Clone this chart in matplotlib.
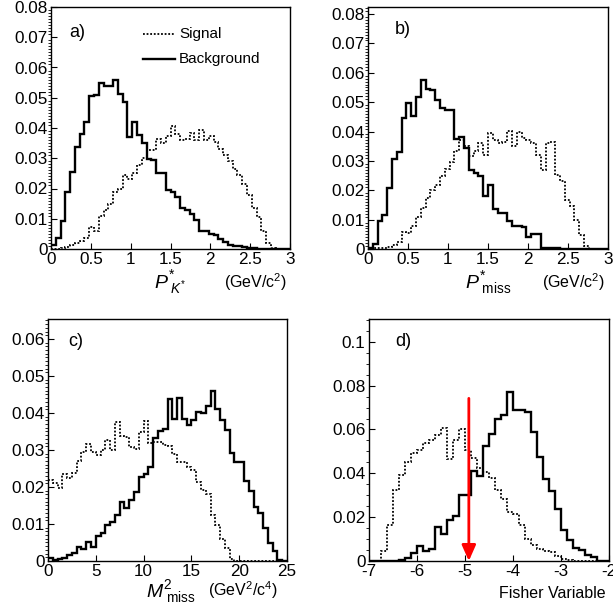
import numpy as np
import matplotlib
matplotlib.use("Agg")
import matplotlib.pyplot as plt
from matplotlib.ticker import MultipleLocator, FuncFormatter

plt.rcParams['font.family'] = ['Liberation Sans', 'DejaVu Sans']
plt.rcParams['mathtext.fontset'] = 'custom'
plt.rcParams['mathtext.rm'] = 'Liberation Sans'
plt.rcParams['mathtext.it'] = 'Liberation Sans:italic'
plt.rcParams['axes.unicode_minus'] = False

# --- data (bin contents) ---
a_range = (0, 3)
a_sig = [0, 0.0001, 0.0004, 0.0008, 0.0013, 0.0020, 0.0028, 0.0038, 0.0073, 0.006,
         0.011, 0.0128, 0.015, 0.019, 0.020, 0.0244, 0.0233, 0.025, 0.0277, 0.030,
         0.0327, 0.0327, 0.0365, 0.035, 0.0375, 0.0405, 0.038, 0.036, 0.0365, 0.0385,
         0.036, 0.0395, 0.036, 0.0375, 0.0355, 0.033, 0.031, 0.029, 0.0265, 0.0245,
         0.0215, 0.018, 0.0135, 0.0105, 0.006, 0.002, 0.0003, 0, 0, 0]
a_bkg = [0.0012, 0.0035, 0.0092, 0.019, 0.0255, 0.0338, 0.038, 0.042, 0.0506, 0.0509,
         0.055, 0.0539, 0.054, 0.0558, 0.0514, 0.0487, 0.037, 0.042, 0.0376, 0.0349,
         0.0296, 0.0294, 0.025, 0.025, 0.0194, 0.0189, 0.0172, 0.0135, 0.0128, 0.0117,
         0.0095, 0.006, 0.006, 0.0049, 0.0045, 0.0034, 0.0023, 0.0014, 0.0011, 0.0011,
         0.0007, 0.0004, 0.0002, 0, 0, 0, 0, 0, 0, 0]

b_range = (0, 3)
b_sig = [0, 0.0002, 0.0003, 0.0004, 0.0008, 0.0013, 0.0023, 0.0058, 0.0055, 0.0077,
         0.011, 0.014, 0.0173, 0.020, 0.0219, 0.0247, 0.0272, 0.0295, 0.0332, 0.037,
         0.035, 0.0315, 0.0332, 0.036, 0.032, 0.0394, 0.037, 0.036, 0.0366, 0.0403,
         0.035, 0.0397, 0.0377, 0.037, 0.036, 0.032, 0.027, 0.036, 0.0363, 0.0253,
         0.023, 0.0168, 0.0145, 0.010, 0.0049, 0.001, 0, 0, 0, 0]
b_bkg = [0.0002, 0.0018, 0.0094, 0.0117, 0.0207, 0.0306, 0.033, 0.0445, 0.0498, 0.0454,
         0.0519, 0.0576, 0.0544, 0.054, 0.0508, 0.048, 0.0474, 0.0474, 0.0374, 0.038,
         0.0343, 0.027, 0.0258, 0.0247, 0.0179, 0.0219, 0.0136, 0.0122, 0.0122, 0.0094,
         0.0079, 0.0079, 0.0074, 0.004, 0.005, 0.005, 0.0003, 0.0002, 0.0005, 0.0003,
         0.0001, 0, 0, 0, 0, 0, 0, 0, 0, 0]

c_range = (0, 25)
c_sig = [0.0218, 0.0211, 0.0196, 0.0235, 0.0223, 0.0238, 0.027, 0.0295, 0.0316, 0.0295,
         0.0286, 0.030, 0.0327, 0.030, 0.0376, 0.0338, 0.0334, 0.0309, 0.0304, 0.0349,
         0.0379, 0.032, 0.0322, 0.0322, 0.0313, 0.031, 0.029, 0.0268, 0.0268, 0.0255,
         0.0245, 0.0214, 0.0191, 0.0182, 0.0124, 0.0097, 0.006, 0.0035, 0.0006, 0,
         0, 0, 0, 0, 0, 0, 0, 0, 0, 0]
c_bkg = [0.0008, 0.0004, 0.0006, 0.0009, 0.0015, 0.0022, 0.0038, 0.0032, 0.0051, 0.0038,
         0.0067, 0.0076, 0.0097, 0.0106, 0.0125, 0.016, 0.0142, 0.0164, 0.0187, 0.0226,
         0.0235, 0.0255, 0.0333, 0.035, 0.0356, 0.0437, 0.0385, 0.044, 0.0385, 0.0367,
         0.038, 0.0403, 0.040, 0.042, 0.046, 0.041, 0.038, 0.0354, 0.0293, 0.0267,
         0.0267, 0.0215, 0.019, 0.0146, 0.0131, 0.0088, 0.0048, 0.0028, 0.0003, 0]

d_range = (-7, -2)
d_sig = [0, 0, 0.0046, 0.0163, 0.0323, 0.0391, 0.0452, 0.0493, 0.0508, 0.054,
         0.0554, 0.0574, 0.0607, 0.0467, 0.0551, 0.060, 0.0505, 0.0472, 0.0426, 0.0406,
         0.038, 0.0323, 0.0285, 0.0224, 0.0216, 0.0163, 0.0102, 0.0072, 0.0056, 0.0045,
         0.004, 0.0025, 0.001, 0.0003, 0, 0, 0, 0, 0, 0]
d_bkg = [0, 0, 0, 0, 0.0002, 0.0006, 0.0015, 0.0037, 0.0069, 0.0046,
         0.0056, 0.0155, 0.0122, 0.0189, 0.0204, 0.030, 0.030, 0.041, 0.0388, 0.0524,
         0.0581, 0.065, 0.0665, 0.0772, 0.0688, 0.0691, 0.068, 0.0589, 0.0475, 0.0375,
         0.032, 0.0235, 0.0143, 0.0097, 0.006, 0.0049, 0.0026, 0.002, 0, 0]
d_cut = -4.92

fig = plt.figure(figsize=(6.13, 6.08), dpi=100)
W, H = 613.0, 608.0


def make_axes(l, t, r, b):
    return fig.add_axes([l / W, 1 - b / H, (r - l) / W, (b - t) / H])


def style(ax, xr, ymax, xmaj, ymaj, ymin):
    ax.set_xlim(*xr)
    ax.set_ylim(0, ymax)
    ax.xaxis.set_major_locator(MultipleLocator(xmaj))
    ax.yaxis.set_major_locator(MultipleLocator(ymaj))
    ax.yaxis.set_minor_locator(MultipleLocator(ymin))
    fmt = FuncFormatter(lambda v, p: '%g' % round(v, 5))
    ax.xaxis.set_major_formatter(fmt)
    ax.yaxis.set_major_formatter(fmt)
    ax.tick_params(direction='in', labelsize=12.3, top=False, right=False)
    ax.tick_params(which='major', length=4.5, width=0.8)
    ax.tick_params(which='minor', length=2.2, width=0.6)
    ax.tick_params(axis='x', pad=2.5)
    ax.tick_params(axis='y', pad=2.5)
    for s in ax.spines.values():
        s.set_linewidth(1.0)


def draw(ax, xr, sig, bkg):
    edges = np.linspace(xr[0], xr[1], len(sig) + 1)
    ax.stairs(sig, edges, baseline=None, color='black', lw=1.3,
              linestyle=(0, (1, 1)))
    ax.stairs(bkg, edges, baseline=None, color='black', lw=1.7)


ax_a = make_axes(51, 7, 290, 249)
draw(ax_a, a_range, a_sig, a_bkg)
style(ax_a, a_range, 0.08, 0.5, 0.01, 0.001)
ax_a.text(0.11, 0.893, 'a)', transform=ax_a.transAxes, fontsize=13,
          ha='center', va='center')
ax_a.plot([0.385, 0.519], [0.888, 0.888], transform=ax_a.transAxes,
          color='black', lw=1.3, linestyle=(0, (1, 1)))
ax_a.plot([0.385, 0.519], [0.785, 0.785], transform=ax_a.transAxes,
          color='black', lw=1.7)
ax_a.text(0.535, 0.888, 'Signal', transform=ax_a.transAxes, fontsize=11,
          va='center')
ax_a.text(0.535, 0.785, 'Background', transform=ax_a.transAxes, fontsize=11,
          va='center')
ax_a.text(0.50, -0.14, r'$P^{*}_{\ K^{*}}$', transform=ax_a.transAxes,
          fontsize=14, ha='center', va='center')
ax_a.text(0.857, -0.135, r'(GeV/c$^2$)', transform=ax_a.transAxes,
          fontsize=11.5, ha='center', va='center')

ax_b = make_axes(368, 7, 608, 249)
draw(ax_b, b_range, b_sig, b_bkg)
style(ax_b, b_range, 0.0824, 0.5, 0.01, 0.001)
ax_b.text(0.145, 0.905, 'b)', transform=ax_b.transAxes, fontsize=13,
          ha='center', va='center')
ax_b.text(0.50, -0.14, r'$P^{*}_{\ \mathrm{miss}}$', transform=ax_b.transAxes,
          fontsize=14, ha='center', va='center')
ax_b.text(0.857, -0.135, r'(GeV/c$^2$)', transform=ax_b.transAxes,
          fontsize=11.5, ha='center', va='center')

ax_c = make_axes(48, 319, 287, 561)
draw(ax_c, c_range, c_sig, c_bkg)
style(ax_c, c_range, 0.0654, 5, 0.01, 0.001)
ax_c.text(0.117, 0.905, 'c)', transform=ax_c.transAxes, fontsize=13,
          ha='center', va='center')
ax_c.text(0.515, -0.128, r'$M^{2}_{\ \mathrm{miss}}$', transform=ax_c.transAxes,
          fontsize=14, ha='center', va='center')
ax_c.text(0.816, -0.122, r'(GeV$^2$/c$^4$)', transform=ax_c.transAxes,
          fontsize=11.5, ha='center', va='center')

ax_d = make_axes(369, 319, 609, 561)
draw(ax_d, d_range, d_sig, d_bkg)
style(ax_d, d_range, 0.1104, 1, 0.02, 0.005)
ax_d.text(0.142, 0.905, 'd)', transform=ax_d.transAxes, fontsize=13,
          ha='center', va='center')
ax_d.text(0.985, -0.135, 'Fisher Variable', transform=ax_d.transAxes,
          fontsize=11.5, ha='right', va='center')
ax_d.annotate('', xy=(d_cut, 0), xytext=(d_cut, 0.0742),
              arrowprops=dict(arrowstyle='-|>,head_length=0.95,head_width=0.42',
                              color='red', lw=2, mutation_scale=10,
                              shrinkA=0, shrinkB=0))

fig.savefig('out.png', dpi=100)
